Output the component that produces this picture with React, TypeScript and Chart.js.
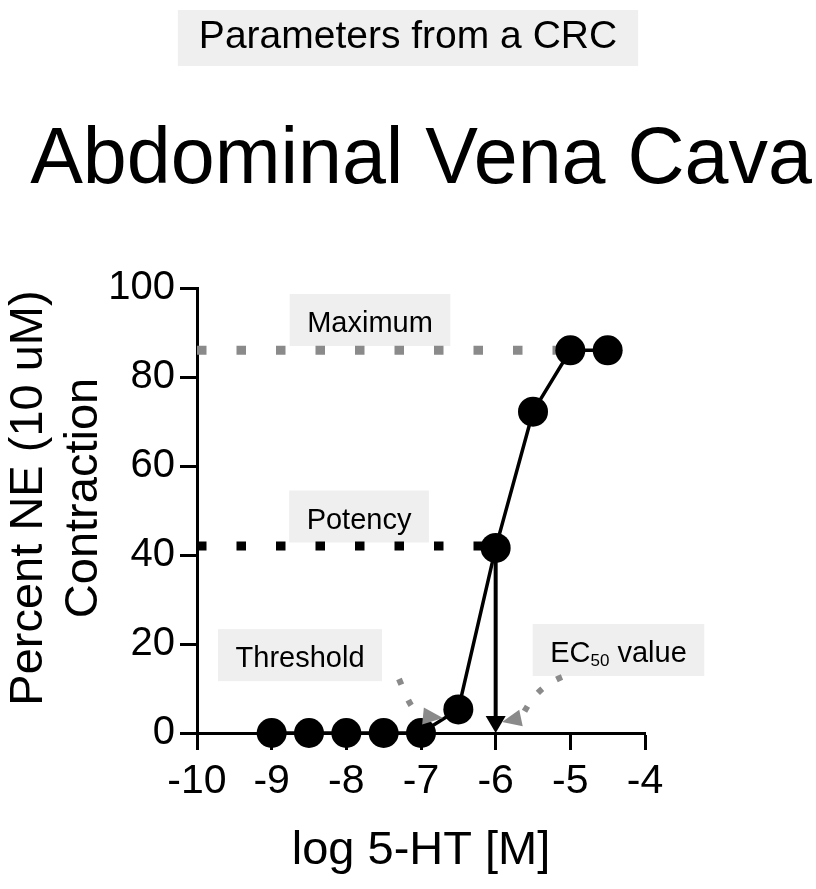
import React, { useEffect, useRef } from "react";
import { Chart, registerables } from "chart.js";

Chart.register(...registerables);

// ---- data ----
const logDose = [-9, -8.5, -8, -7.5, -7, -6.5, -6, -5.5, -5, -4.5];
const contraction = [0, 0, 0, 0, 0, 5.3, 41.6, 72.2, 86, 86];
const xTickValues = [-10, -9, -8, -7, -6, -5, -4];
const yTickValues = [0, 20, 40, 60, 80, 100];

// parameters
const maximumLevel = 86;
const potencyLevel = 42;
const ec50Log = -6;
const axisStartLog = -10;
const maximumLog = -5;

// annotation text
const titleTop = "Parameters from a CRC";
const titleMain = "Abdominal Vena Cava";
const yTitleLines = ["Percent NE (10 uM)", "Contraction"];
const xTitle = "log 5-HT [M]";

// curved dotted arrows (data units): start, control 1, control 2, end, tip
const thresholdArrow = [
  [-7.295, 12.13],
  [-7.174, 7.42],
  [-7.121, 4.72],
  [-6.973, 3.82],
  [-6.705, 3.37],
];
const ec50Arrow = [
  [-5.112, 12.58],
  [-5.406, 10.56],
  [-5.54, 7.42],
  [-5.661, 3.37],
  [-5.915, 2.47],
];

const FONT = '"Liberation Sans", Arial, Helvetica, sans-serif';
const BOX = "#efefef";
const GREY = "#8a8a8a";

type Label = { parts: { t: string; sub?: boolean }[]; x: number; y: number };
const labelBoxes: Label[] = [
  { parts: [{ t: "Maximum" }], x: -7.683, y: 92.8 },
  { parts: [{ t: "Potency" }], x: -7.83, y: 48.65 },
  { parts: [{ t: "Threshold" }], x: -8.62, y: 17.5 },
  { parts: [{ t: "EC" }, { t: "50", sub: true }, { t: " value" }], x: -4.355, y: 18.65 },
];

function drawArrowHead(ctx: CanvasRenderingContext2D, bx: number, by: number, tx: number, ty: number, w: number, color: string) {
  const dx = tx - bx;
  const dy = ty - by;
  const len = Math.hypot(dx, dy) || 1;
  const nx = -dy / len;
  const ny = dx / len;
  ctx.fillStyle = color;
  ctx.beginPath();
  ctx.moveTo(tx, ty);
  ctx.lineTo(bx + (nx * w) / 2, by + (ny * w) / 2);
  ctx.lineTo(bx - (nx * w) / 2, by - (ny * w) / 2);
  ctx.closePath();
  ctx.fill();
}

const crcPlugin = {
  id: "crcAnnotations",
  beforeDatasetsDraw(chart: any) {
    const { ctx } = chart;
    const xs = chart.scales.x;
    const ys = chart.scales.y;
    ctx.save();
    // label boxes
    const fs = 29;
    const subFs = 17;
    for (const lb of labelBoxes) {
      let total = 0;
      const widths = lb.parts.map((p) => {
        ctx.font = `${p.sub ? subFs : fs}px ${FONT}`;
        const w = ctx.measureText(p.t).width;
        total += w;
        return w;
      });
      const cx = xs.getPixelForValue(lb.x);
      const cy = ys.getPixelForValue(lb.y);
      const bw = total + 35;
      const bh = 52;
      ctx.fillStyle = BOX;
      ctx.fillRect(cx - bw / 2, cy - bh / 2, bw, bh);
      ctx.fillStyle = "#000";
      ctx.textAlign = "left";
      ctx.textBaseline = "alphabetic";
      let x = cx - total / 2;
      const base = cy + 12;
      lb.parts.forEach((p, i) => {
        ctx.font = `${p.sub ? subFs : fs}px ${FONT}`;
        ctx.fillText(p.t, x, p.sub ? base + 4 : base);
        x += widths[i];
      });
    }
    // dotted horizontal lines
    const drawDotted = (y: number, x0: number, x1: number, color: string) => {
      ctx.strokeStyle = color;
      ctx.lineWidth = 9;
      ctx.lineCap = "butt";
      ctx.setLineDash([9.5, 30]);
      ctx.beginPath();
      ctx.moveTo(xs.getPixelForValue(x0), ys.getPixelForValue(y));
      ctx.lineTo(xs.getPixelForValue(x1), ys.getPixelForValue(y));
      ctx.stroke();
      ctx.setLineDash([]);
    };
    drawDotted(maximumLevel, axisStartLog, maximumLog, GREY);
    drawDotted(potencyLevel, axisStartLog, ec50Log, "#000");
    ctx.restore();
  },
  afterDatasetsDraw(chart: any) {
    const { ctx } = chart;
    const xs = chart.scales.x;
    const ys = chart.scales.y;
    const P = (p: number[]) => [xs.getPixelForValue(p[0]), ys.getPixelForValue(p[1])];
    ctx.save();
    // vertical EC50 arrow
    const top = P([ec50Log, potencyLevel]);
    const tip = P([ec50Log, 0]);
    ctx.strokeStyle = "#000";
    ctx.lineWidth = 4;
    ctx.beginPath();
    ctx.moveTo(top[0], top[1]);
    ctx.lineTo(tip[0], tip[1] - 14);
    ctx.stroke();
    drawArrowHead(ctx, tip[0], tip[1] - 17, tip[0], tip[1], 20, "#000");
    // curved dotted arrows
    for (const arr of [thresholdArrow, ec50Arrow]) {
      const [s, c1, c2, e, t] = arr.map(P);
      ctx.strokeStyle = GREY;
      ctx.lineWidth = 6;
      ctx.setLineDash([6, 17]);
      ctx.beginPath();
      ctx.moveTo(s[0], s[1]);
      ctx.bezierCurveTo(c1[0], c1[1], c2[0], c2[1], e[0], e[1]);
      ctx.stroke();
      ctx.setLineDash([]);
      drawArrowHead(ctx, e[0], e[1], t[0], t[1], 17, GREY);
    }
    ctx.restore();
  },
  afterDraw(chart: any) {
    const { ctx } = chart;
    ctx.save();
    // top boxed title
    ctx.font = `39px ${FONT}`;
    const tw = ctx.measureText(titleTop).width;
    ctx.fillStyle = BOX;
    ctx.fillRect(408 - tw / 2 - 21, 10, tw + 42, 56);
    ctx.fillStyle = "#000";
    ctx.textAlign = "center";
    ctx.textBaseline = "alphabetic";
    ctx.fillText(titleTop, 408, 48);
    // main title
    ctx.font = `79px ${FONT}`;
    ctx.fillText(titleMain, 421, 183);
    // y title
    ctx.font = `47px ${FONT}`;
    ctx.textBaseline = "alphabetic";
    const baselines = [42, 97];
    yTitleLines.forEach((line, i) => {
      ctx.save();
      ctx.translate(baselines[i], 498);
      ctx.rotate(-Math.PI / 2);
      ctx.fillText(line, 0, 0);
      ctx.restore();
    });
    ctx.restore();
  },
};

export default function App() {
  const ref = useRef<HTMLCanvasElement | null>(null);
  useEffect(() => {
    if (!ref.current) return;
    const chart = new Chart(ref.current, {
      type: "line",
      data: {
        datasets: [
          {
            data: logDose.map((x, i) => ({ x, y: contraction[i] })),
            borderColor: "#000",
            borderWidth: 3.5,
            backgroundColor: "#000",
            pointBackgroundColor: "#000",
            pointBorderWidth: 0,
            pointRadius: 15,
            tension: 0,
            clip: false as any,
          },
        ],
      },
      options: {
        responsive: false,
        animation: false,
        layout: { padding: { left: 0, right: 171, top: 288, bottom: 0 } },
        plugins: { legend: { display: false }, tooltip: { enabled: false }, title: { display: false } },
        scales: {
          x: {
            type: "linear",
            min: -10,
            max: -4,
            afterFit: (s: any) => {
              s.height = 156;
            },
            afterBuildTicks: (s: any) => {
              s.ticks = xTickValues.map((v) => ({ value: v }));
            },
            ticks: { color: "#000", font: { family: FONT, size: 41 }, padding: 7, autoSkip: false, maxRotation: 0 },
            grid: { display: true, drawOnChartArea: false, drawTicks: true, tickLength: 17, tickWidth: 3, tickColor: "#000", color: "#000" },
            border: { display: true, width: 3, color: "#000" },
            title: { display: true, text: xTitle, color: "#000", font: { family: FONT, size: 47 }, padding: { top: 0, bottom: 10 } },
          },
          y: {
            type: "linear",
            min: 0,
            max: 100,
            afterFit: (s: any) => {
              s.width = 197;
            },
            afterBuildTicks: (s: any) => {
              s.ticks = yTickValues.map((v) => ({ value: v }));
            },
            ticks: { color: "#000", font: { family: FONT, size: 40 }, padding: 5 },
            grid: { display: true, drawOnChartArea: false, drawTicks: true, tickLength: 17, tickWidth: 3, tickColor: "#000", color: "#000" },
            border: { display: true, width: 3, color: "#000" },
          },
        },
      },
      plugins: [crcPlugin],
    });
    return () => chart.destroy();
  }, []);
  return (
    <div style={{ position: "absolute", left: 0, top: 0, width: 816, height: 889, background: "#fff" }}>
      <canvas ref={ref} width={816} height={889} />
    </div>
  );
}
